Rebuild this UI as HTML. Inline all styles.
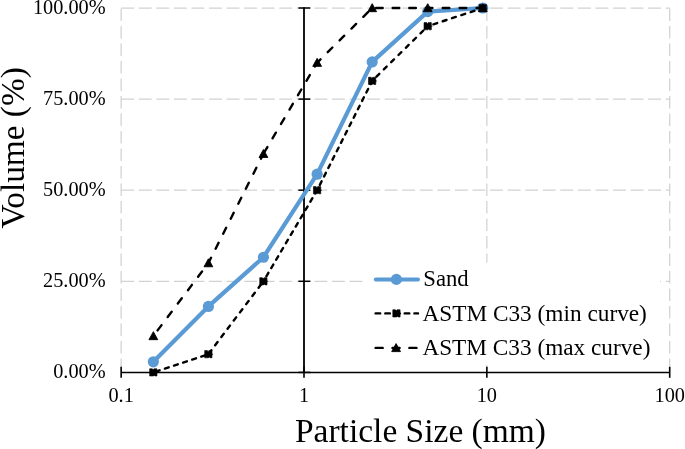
<!DOCTYPE html>
<html><head><meta charset="utf-8"><style>
html,body{margin:0;padding:0;background:#fff;}
body{width:685px;height:449px;overflow:hidden;}
svg{display:block;filter:blur(0.35px);}
text{font-family:"Liberation Serif",serif;fill:#000;}
</style></head><body>
<svg width="685" height="449" viewBox="0 0 685 449">
<rect width="685" height="449" fill="#fff"/>
<line x1="121.2" y1="281.30" x2="669.70" y2="281.30" stroke="#d2d2d2" stroke-width="1.25" stroke-dasharray="12.9 4.665"/>
<line x1="121.2" y1="190.20" x2="669.70" y2="190.20" stroke="#d2d2d2" stroke-width="1.25" stroke-dasharray="12.9 4.665"/>
<line x1="121.2" y1="99.10" x2="669.70" y2="99.10" stroke="#d2d2d2" stroke-width="1.25" stroke-dasharray="12.9 4.665"/>
<line x1="121.2" y1="8.00" x2="669.70" y2="8.00" stroke="#d2d2d2" stroke-width="1.25" stroke-dasharray="12.9 4.665"/>
<line x1="121.15" y1="8.4" x2="121.15" y2="372.40" stroke="#d2d2d2" stroke-width="1.25" stroke-dasharray="12.5 5"/>
<line x1="486.85" y1="8.4" x2="486.85" y2="372.40" stroke="#d2d2d2" stroke-width="1.25" stroke-dasharray="12.5 5"/>
<line x1="669.70" y1="8.4" x2="669.70" y2="372.40" stroke="#d2d2d2" stroke-width="1.25" stroke-dasharray="12.5 5"/>
<line x1="121.15" y1="372.4" x2="669.70" y2="372.4" stroke="#000" stroke-width="1.5"/>
<line x1="304.00" y1="7.20" x2="304.00" y2="372.4" stroke="#000" stroke-width="1.8"/>
<line x1="121.15" y1="366.80" x2="121.15" y2="377.80" stroke="#000" stroke-width="1.6"/>
<line x1="304.00" y1="366.80" x2="304.00" y2="377.80" stroke="#000" stroke-width="1.6"/>
<line x1="486.85" y1="366.80" x2="486.85" y2="377.80" stroke="#000" stroke-width="1.6"/>
<line x1="669.70" y1="366.80" x2="669.70" y2="377.80" stroke="#000" stroke-width="1.6"/>
<line x1="298.40" y1="372.40" x2="310.40" y2="372.40" stroke="#000" stroke-width="1.5"/>
<line x1="298.40" y1="281.30" x2="310.40" y2="281.30" stroke="#000" stroke-width="1.5"/>
<line x1="298.40" y1="190.20" x2="310.40" y2="190.20" stroke="#000" stroke-width="1.5"/>
<line x1="298.40" y1="99.10" x2="310.40" y2="99.10" stroke="#000" stroke-width="1.5"/>
<line x1="298.40" y1="8.00" x2="310.40" y2="8.00" stroke="#000" stroke-width="1.5"/>
<text x="105.6" y="378.30" font-size="20.3" text-anchor="end">0.00%</text>
<text x="105.6" y="287.20" font-size="20.3" text-anchor="end">25.00%</text>
<text x="105.6" y="196.10" font-size="20.3" text-anchor="end">50.00%</text>
<text x="105.6" y="105.00" font-size="20.3" text-anchor="end">75.00%</text>
<text x="105.6" y="13.90" font-size="20.3" text-anchor="end">100.00%</text>
<text x="121.15" y="402" font-size="20.3" text-anchor="middle">0.1</text>
<text x="304.00" y="402" font-size="20.3" text-anchor="middle">1</text>
<text x="486.85" y="402" font-size="20.3" text-anchor="middle">10</text>
<text x="669.70" y="402" font-size="20.3" text-anchor="middle">100</text>
<polyline points="153.35,361.83 208.39,306.44 263.43,257.25 317.14,174.17 372.19,61.93 427.73,11.64 482.78,8.00" fill="none" stroke="#5b9bd5" stroke-width="4.2" stroke-linejoin="round" stroke-linecap="round"/>
<circle cx="153.35" cy="361.83" r="5.6" fill="#5b9bd5"/>
<circle cx="208.39" cy="306.44" r="5.6" fill="#5b9bd5"/>
<circle cx="263.43" cy="257.25" r="5.6" fill="#5b9bd5"/>
<circle cx="317.14" cy="174.17" r="5.6" fill="#5b9bd5"/>
<circle cx="372.19" cy="61.93" r="5.6" fill="#5b9bd5"/>
<circle cx="427.73" cy="11.64" r="5.6" fill="#5b9bd5"/>
<circle cx="482.78" cy="8.00" r="5.6" fill="#5b9bd5"/>
<line x1="153.35" y1="372.40" x2="208.39" y2="354.18" stroke="#000" stroke-width="2.4" stroke-dasharray="4.00 5.58" stroke-dashoffset="-2.58" stroke-linecap="round"/>
<line x1="208.39" y1="354.18" x2="263.43" y2="281.30" stroke="#000" stroke-width="2.4" stroke-dasharray="4.00 6.30" stroke-dashoffset="-11.20" stroke-linecap="round"/>
<line x1="263.43" y1="281.30" x2="317.14" y2="190.20" stroke="#000" stroke-width="2.4" stroke-dasharray="4.00 5.63" stroke-dashoffset="-5.77" stroke-linecap="round"/>
<line x1="317.14" y1="190.20" x2="372.19" y2="80.88" stroke="#000" stroke-width="2.4" stroke-dasharray="4.00 5.40" stroke-dashoffset="-6.00" stroke-linecap="round"/>
<line x1="372.19" y1="80.88" x2="427.73" y2="26.22" stroke="#000" stroke-width="2.4" stroke-dasharray="4.00 6.30" stroke-dashoffset="-6.00" stroke-linecap="round"/>
<line x1="427.73" y1="26.22" x2="482.78" y2="8.00" stroke="#000" stroke-width="2.4" stroke-dasharray="4.00 5.80" stroke-dashoffset="-6.00" stroke-linecap="round"/>
<path d="M149.65,368.80 L152.35,368.80 L153.05,370.10 L153.85,368.80 L156.95,368.80 L156.95,371.40 L157.55,372.60 L156.95,373.60 L156.95,376.00 L154.95,376.00 L154.25,375.20 L153.55,376.00 L149.65,376.00 Z" fill="#000" stroke="#000" stroke-width="0.6" stroke-linejoin="round"/>
<path d="M204.69,350.58 L207.39,350.58 L208.09,351.88 L208.89,350.58 L211.99,350.58 L211.99,353.18 L212.59,354.38 L211.99,355.38 L211.99,357.78 L209.99,357.78 L209.29,356.98 L208.59,357.78 L204.69,357.78 Z" fill="#000" stroke="#000" stroke-width="0.6" stroke-linejoin="round"/>
<path d="M259.73,277.70 L262.43,277.70 L263.13,279.00 L263.93,277.70 L267.03,277.70 L267.03,280.30 L267.63,281.50 L267.03,282.50 L267.03,284.90 L265.03,284.90 L264.33,284.10 L263.63,284.90 L259.73,284.90 Z" fill="#000" stroke="#000" stroke-width="0.6" stroke-linejoin="round"/>
<path d="M313.44,186.60 L316.14,186.60 L316.84,187.90 L317.64,186.60 L320.74,186.60 L320.74,189.20 L321.34,190.40 L320.74,191.40 L320.74,193.80 L318.74,193.80 L318.04,193.00 L317.34,193.80 L313.44,193.80 Z" fill="#000" stroke="#000" stroke-width="0.6" stroke-linejoin="round"/>
<path d="M368.49,77.28 L371.19,77.28 L371.89,78.58 L372.69,77.28 L375.79,77.28 L375.79,79.88 L376.39,81.08 L375.79,82.08 L375.79,84.48 L373.79,84.48 L373.09,83.68 L372.39,84.48 L368.49,84.48 Z" fill="#000" stroke="#000" stroke-width="0.6" stroke-linejoin="round"/>
<path d="M424.03,22.62 L426.73,22.62 L427.43,23.92 L428.23,22.62 L431.33,22.62 L431.33,25.22 L431.93,26.42 L431.33,27.42 L431.33,29.82 L429.33,29.82 L428.63,29.02 L427.93,29.82 L424.03,29.82 Z" fill="#000" stroke="#000" stroke-width="0.6" stroke-linejoin="round"/>
<path d="M479.08,4.40 L481.78,4.40 L482.48,5.70 L483.28,4.40 L486.38,4.40 L486.38,7.00 L486.98,8.20 L486.38,9.20 L486.38,11.60 L484.38,11.60 L483.68,10.80 L482.98,11.60 L479.08,11.60 Z" fill="#000" stroke="#000" stroke-width="0.6" stroke-linejoin="round"/>
<line x1="153.35" y1="335.96" x2="208.39" y2="263.08" stroke="#000" stroke-width="2.4" stroke-dasharray="6.60 10.20" stroke-dashoffset="-7.00" stroke-linecap="round"/>
<line x1="208.39" y1="263.08" x2="263.43" y2="153.76" stroke="#000" stroke-width="2.4" stroke-dasharray="6.60 10.20" stroke-dashoffset="-16.10" stroke-linecap="round"/>
<line x1="263.43" y1="153.76" x2="317.14" y2="62.66" stroke="#000" stroke-width="2.4" stroke-dasharray="6.60 10.10" stroke-dashoffset="-17.90" stroke-linecap="round"/>
<line x1="317.14" y1="62.66" x2="372.19" y2="8.00" stroke="#000" stroke-width="2.4" stroke-dasharray="6.60 10.13" stroke-dashoffset="-14.90" stroke-linecap="round"/>
<line x1="372.19" y1="8.00" x2="427.73" y2="8.00" stroke="#000" stroke-width="2.4" stroke-dasharray="6.60 10.00" stroke-dashoffset="-3.90" stroke-linecap="round"/>
<line x1="427.73" y1="8.00" x2="482.78" y2="8.00" stroke="#000" stroke-width="2.4" stroke-dasharray="6.60 10.30" stroke-dashoffset="-15.00" stroke-linecap="round"/>
<path d="M153.35,331.66 L157.75,339.66 L148.95,339.66 Z" fill="#000" stroke="#000" stroke-width="0.9" stroke-linejoin="round"/>
<path d="M208.39,258.78 L212.79,266.78 L203.99,266.78 Z" fill="#000" stroke="#000" stroke-width="0.9" stroke-linejoin="round"/>
<path d="M263.43,149.46 L267.83,157.46 L259.03,157.46 Z" fill="#000" stroke="#000" stroke-width="0.9" stroke-linejoin="round"/>
<path d="M317.14,58.36 L321.54,66.36 L312.74,66.36 Z" fill="#000" stroke="#000" stroke-width="0.9" stroke-linejoin="round"/>
<path d="M372.19,3.70 L376.59,11.70 L367.79,11.70 Z" fill="#000" stroke="#000" stroke-width="0.9" stroke-linejoin="round"/>
<path d="M427.73,3.70 L432.13,11.70 L423.33,11.70 Z" fill="#000" stroke="#000" stroke-width="0.9" stroke-linejoin="round"/>
<path d="M482.78,3.70 L487.18,11.70 L478.38,11.70 Z" fill="#000" stroke="#000" stroke-width="0.9" stroke-linejoin="round"/>
<rect x="365" y="262.5" width="295" height="102.5" fill="#fff"/>
<line x1="375.8" y1="279.4" x2="418" y2="279.4" stroke="#5b9bd5" stroke-width="4" stroke-linecap="round"/>
<circle cx="396.4" cy="279.4" r="5.6" fill="#5b9bd5"/>
<line x1="375.6" y1="313.4" x2="418" y2="313.4" stroke="#000" stroke-width="2.4" stroke-dasharray="4.6 5.1" stroke-linecap="round"/>
<path d="M392.80,309.80 L395.50,309.80 L396.20,311.10 L397.00,309.80 L400.10,309.80 L400.10,312.40 L400.70,313.60 L400.10,314.60 L400.10,317.00 L398.10,317.00 L397.40,316.20 L396.70,317.00 L392.80,317.00 Z" fill="#000" stroke="#000" stroke-width="0.6" stroke-linejoin="round"/>
<line x1="375.6" y1="347.9" x2="418" y2="347.9" stroke="#000" stroke-width="2.4" stroke-dasharray="7.1 9.8" stroke-linecap="round"/>
<path d="M396.10,343.60 L400.50,351.60 L391.70,351.60 Z" fill="#000" stroke="#000" stroke-width="0.9" stroke-linejoin="round"/>
<text x="423.3" y="286.2" font-size="22.5" textLength="45.4" lengthAdjust="spacingAndGlyphs">Sand</text>
<text x="422.4" y="320.5" font-size="22.5" textLength="224.5" lengthAdjust="spacingAndGlyphs">ASTM C33 (min curve)</text>
<text x="422.4" y="354.5" font-size="22.5" textLength="228" lengthAdjust="spacingAndGlyphs">ASTM C33 (max curve)</text>
<text x="295" y="441.5" font-size="34.7" textLength="251" lengthAdjust="spacingAndGlyphs">Particle Size (mm)</text>
<text transform="translate(23.8,228.5) rotate(-90)" x="0" y="0" font-size="34.7" textLength="161.3" lengthAdjust="spacingAndGlyphs">Volume (%)</text>
</svg></body></html>
